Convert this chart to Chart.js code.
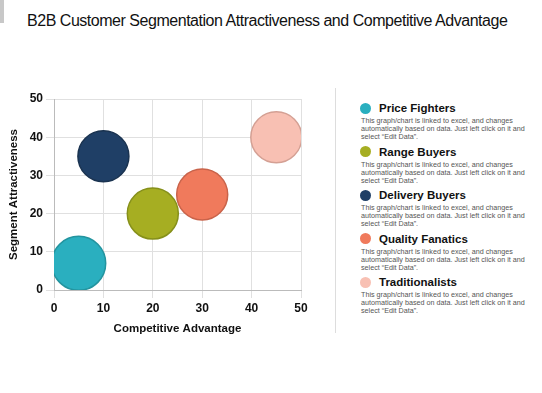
<!DOCTYPE html>
<html>
<head>
<meta charset="utf-8">
<script src="https://cdn.jsdelivr.net/npm/chart.js@4.4.0/dist/chart.umd.min.js"></script>
<style>
  body { margin: 0; background: #fff; font-family: "Liberation Sans", Arial, sans-serif; }
  #page { position: relative; width: 542px; height: 393px; overflow: hidden; }
  #corner { position: absolute; left: 0; top: 0; width: 4px; height: 23px; background: #c8c8c8; }
  #title { position: absolute; left: 27px; top: 12px; font-size: 16px; color: #111; letter-spacing: -0.47px; white-space: nowrap; }
  #wrap { position: absolute; left: 0; top: 88px; width: 320px; height: 252px; }
  #sep { position: absolute; left: 335px; top: 88px; width: 1px; height: 245px; background: #ddd; }
  #legend { position: absolute; left: 360px; top: 100px; width: 182px; }
  .item { height: 43.5px; }
  .head { display: flex; align-items: center; height: 16px; }
  .dot { width: 11px; height: 11px; border-radius: 50%; margin-right: 8px; }
  .name { font-weight: bold; font-size: 11.5px; color: #111; }
  .desc { font-size: 7.2px; line-height: 8px; color: #555; margin-left: 1px; margin-top: 1px; white-space: nowrap; }
</style>
</head>
<body>
<div id="page">
  <div id="corner"></div>
  <div id="title">B2B Customer Segmentation Attractiveness and Competitive Advantage</div>
  <div id="wrap"><canvas id="myChart"></canvas></div>
  <div id="sep"></div>
  <div id="legend"></div>
</div>
<script>
const segments = ['Price Fighters', 'Range Buyers', 'Delivery Buyers', 'Quality Fanatics', 'Traditionalists'];
const advantage = [5, 20, 10, 30, 45];
const attractiveness = [7, 20, 35, 25, 40];
const bubbleSize = [27, 25.5, 25.5, 25.5, 25.5];
const colors = ['#2aafbf', '#a6ae22', '#1f3f66', '#f07a5c', '#f8c0b3'];
const borders = ['#23949f', '#86901a', '#1a3350', '#c9634a', '#d4a094'];
const description = ['This graph/chart is linked to excel, and changes', 'automatically based on data. Just left click on it and', 'select \u201cEdit Data\u201d.'];

// legend on the right
const legend = document.getElementById('legend');
segments.forEach((name, i) => {
    const item = document.createElement('div');
    item.className = 'item';
    item.innerHTML = '<div class="head"><span class="dot" style="background:' + colors[i] + '"></span>' +
        '<span class="name">' + name + '</span></div>' +
        '<div class="desc">' + description.join('<br>') + '</div>';
    legend.appendChild(item);
});

const ctx = document.getElementById('myChart').getContext('2d');
const myChart = new Chart(ctx, {
    type: 'bubble',
    data: {
        datasets: segments.map((name, i) => ({
            label: name,
            data: [{ x: advantage[i], y: attractiveness[i], r: bubbleSize[i] }],
            backgroundColor: colors[i],
            borderColor: borders[i],
            borderWidth: 1.5,
            clip: 0
        }))
    },
    options: {
        responsive: true,
        maintainAspectRatio: false,
        animation: false,
        layout: { autoPadding: false, padding: { top: 11, right: 19, left: 0, bottom: 0 } },
        plugins: { legend: { display: false }, tooltip: { enabled: false } },
        scales: {
            x: {
                min: 0, max: 50,
                ticks: { stepSize: 10, color: '#111', font: { size: 12, weight: 'bold', family: 'Liberation Sans' } },
                grid: { color: '#e0e0e0' },
                border: { color: '#bbb' },
                title: { display: true, text: 'Competitive Advantage', color: '#111', font: { size: 11.5, weight: 'bold', family: 'Liberation Sans' }, padding: { top: 5 } },
                afterFit: (s) => { s.height = 50; }
            },
            y: {
                min: 0, max: 50,
                ticks: { stepSize: 10, color: '#111', font: { size: 12, weight: 'bold', family: 'Liberation Sans' } },
                grid: { color: '#e0e0e0' },
                border: { color: '#bbb' },
                title: { display: true, text: 'Segment Attractiveness', color: '#111', font: { size: 11.5, weight: 'bold', family: 'Liberation Sans' }, padding: { top: 7, bottom: 4 } },
                afterFit: (s) => { s.width = 54; }
            }
        }
    }
});
</script>
</body>
</html>
